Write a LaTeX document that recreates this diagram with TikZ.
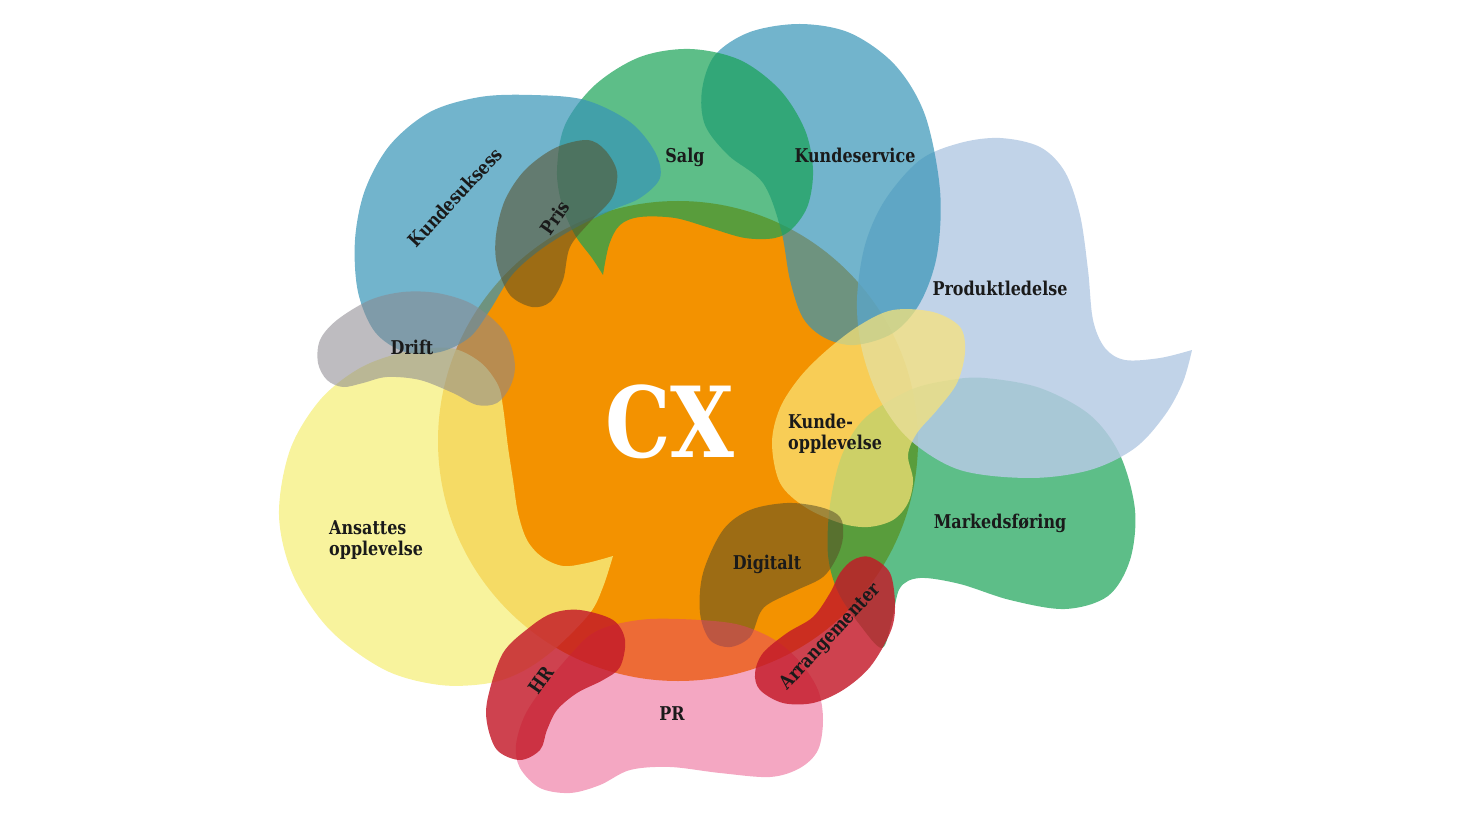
\documentclass[tikz,border=0pt]{standalone}
\usepackage{fontspec}
\setmainfont{DejaVu Serif}[FakeStretch=0.84]
\definecolor{cxorange}{RGB}{243,146,0}
\definecolor{kblue}{RGB}{54,148,182}
\definecolor{kgreen}{RGB}{24,162,86}
\definecolor{kyellow}{RGB}{246,240,130}
\definecolor{klight}{RGB}{182,203,228}
\definecolor{kkunde}{RGB}{250,228,120}
\definecolor{kgrey}{RGB}{139,136,143}
\definecolor{kolive}{RGB}{88,78,38}
\definecolor{kred}{RGB}{195,25,40}
\definecolor{kpink}{RGB}{230,60,120}
\definecolor{labelc}{RGB}{26,26,26}
\tikzset{
  blueblob/.style={fill=kblue, fill opacity=0.7},
  greenblob/.style={fill=kgreen, fill opacity=0.7},
  yellowblob/.style={fill=kyellow, fill opacity=0.78},
  lightblob/.style={fill=klight, fill opacity=0.85},
  kundeblob/.style={fill=kkunde, fill opacity=0.72},
  greyblob/.style={fill=kgrey, fill opacity=0.56},
  oliveblob/.style={fill=kolive, fill opacity=0.55},
  redblob/.style={fill=kred, fill opacity=0.82},
  pinkblob/.style={fill=kpink, fill opacity=0.45},
  lbl/.style={font=\bfseries\fontsize{19}{21}\selectfont, text=labelc, inner sep=0pt},
}
\begin{document}
\begin{tikzpicture}[x=1pt,y=-1pt]
\useasboundingbox (0,0) rectangle (1470,818);
% CX circle
\fill[cxorange] (678,441) circle[radius=240];
% Ansattes opplevelse
\fill[yellowblob] plot[smooth, tension=0.55] coordinates {(613,556) (603,587) (590,613) (557,647) (525,670) (490,683) (440,685) (385,670) (330,630) (293,575) (279,515) (290,450) (320,400) (360,368) (405,352) (450,348) (480,362) (498,385) (503,407) (508,447) (513,480) (518,513) (527,540) (542,557) (563,566) (587,563) (613,556)} -- cycle;
% Markedsforing
\fill[greenblob] plot[smooth cycle, tension=0.55] coordinates {(985,378) (1040,388) (1090,415) (1120,455) (1135,510) (1130,560) (1108,596) (1065,609) (1010,600) (960,584) (920,578) (900,588) (892,620) (882,648) (860,625) (838,592) (828,555) (830,505) (842,455) (865,418) (910,390) (950,380)};
% Produktledelse
\fill[lightblob] plot[smooth, tension=0.55] coordinates {(1192,350) (1160,358) (1125,360) (1105,348) (1093,320) (1088,270) (1080,215) (1065,172) (1040,147) (1000,138) (960,143) (920,160) (885,200) (865,245) (857,300) (862,350) (880,400) (910,440) (960,470) (1030,478) (1090,470) (1135,448) (1165,415) (1183,382) (1192,350)} -- cycle;
% Kundeservice
\fill[blueblob] plot[smooth cycle, tension=0.55] coordinates {(800,24) (850,33) (895,65) (925,115) (940,190) (937,255) (920,303) (893,333) (855,345) (825,338) (803,318) (790,280) (781,230) (763,183) (728,155) (705,125) (702,90) (715,55) (750,32)};
% Salg
\fill[greenblob] plot[smooth, tension=0.55] coordinates {(603,275) (592,258) (575,235) (562,205) (557,170) (565,125) (595,85) (640,57) (690,49) (740,60) (780,90) (805,130) (813,170) (808,205) (793,228) (775,238) (745,238) (710,228) (675,218) (640,217) (620,225) (609,245) (603,275)} -- cycle;
% Kundesuksess
\fill[blueblob] plot[smooth cycle, tension=0.55] coordinates {(532,95) (585,100) (630,122) (655,152) (660,178) (640,198) (612,210) (575,228) (540,250) (512,275) (490,310) (470,337) (440,352) (405,352) (375,332) (358,292) (355,240) (365,190) (390,145) (430,112) (480,97)};
% Pris
\fill[oliveblob] plot[smooth cycle, tension=0.55] coordinates {(587,140) (605,150) (617,172) (612,198) (590,222) (570,247) (563,280) (550,302) (532,307) (510,295) (497,265) (496,235) (505,200) (525,170) (555,148)};
% Drift
\fill[greyblob] plot[smooth cycle, tension=0.55] coordinates {(403,292) (437,293) (470,303) (497,323) (510,343) (515,367) (510,387) (497,403) (477,405) (453,393) (420,380) (387,377) (363,383) (343,387) (327,380) (318,363) (320,340) (337,320) (370,300)};
% Kundeopplevelse
\fill[kundeblob] plot[smooth cycle, tension=0.55] coordinates {(893,310) (933,312) (960,327) (965,352) (957,383) (937,410) (917,433) (908,455) (913,480) (908,503) (893,520) (868,527) (840,523) (805,507) (780,483) (772,443) (780,408) (800,377) (827,350) (860,325)};
% Digitalt
\fill[oliveblob] plot[smooth cycle, tension=0.55] coordinates {(787,503) (820,507) (840,517) (843,537) (837,557) (823,577) (797,590) (770,603) (760,613) (750,637) (730,647) (710,640) (700,613) (703,573) (723,530) (750,510)};
% PR
\fill[pinkblob] plot[smooth cycle, tension=0.55] coordinates {(613,625) (650,619) (700,620) (740,625) (775,640) (800,662) (818,690) (823,720) (818,750) (800,768) (770,777) (720,773) (670,767) (630,770) (600,785) (570,793) (540,788) (520,768) (516,745) (525,715) (545,685) (570,655) (590,635)};
% HR
\fill[redblob] plot[smooth cycle, tension=0.55] coordinates {(580,610) (613,620) (625,640) (620,667) (603,680) (577,693) (557,710) (547,730) (540,750) (520,760) (497,750) (487,723) (488,697) (503,653) (530,627) (553,613)};
% Arrangementer
\fill[redblob] plot[smooth cycle, tension=0.55] coordinates {(870,557) (890,573) (895,607) (890,633) (870,667) (843,690) (813,703) (783,703) (760,690) (755,673) (763,653) (787,633) (813,617) (830,593) (840,573) (853,560)};
% labels
\node[lbl, rotate=47] (kundesuksess) at (455,197) {Kundesuksess};
\node[lbl, rotate=55] (pris) at (555,218) {Pris};
\node[lbl, anchor=base] (salg) at (685,163) {Salg};
\node[lbl, anchor=base] (kundeservice) at (855,163) {Kundeservice};
\node[lbl, anchor=base] (produkt) at (1000,296) {Produktledelse};
\node[lbl, anchor=base] (drift) at (412,354) {Drift};
\node[font=\bfseries\fontsize{98}{98}\selectfont, text=white, inner sep=0pt, anchor=base] (cx) at (670,457) {CX};
\node[lbl, anchor=west, align=left] (kundeopp) at (788,434) {Kunde-\\opplevelse};
\node[lbl, anchor=west, align=left] (ansattes) at (329,540) {Ansattes\\opplevelse};
\node[lbl, anchor=base] (marked) at (1000,528) {Markedsføring};
\node[lbl, anchor=base] (digitalt) at (767,569) {Digitalt};
\node[lbl, rotate=55] (hr) at (541,680) {HR};
\node[lbl, anchor=base] (pr) at (672,720) {PR};
\node[lbl, rotate=47] (arr) at (831,637) {Arrangementer};
\end{tikzpicture}
\end{document}
